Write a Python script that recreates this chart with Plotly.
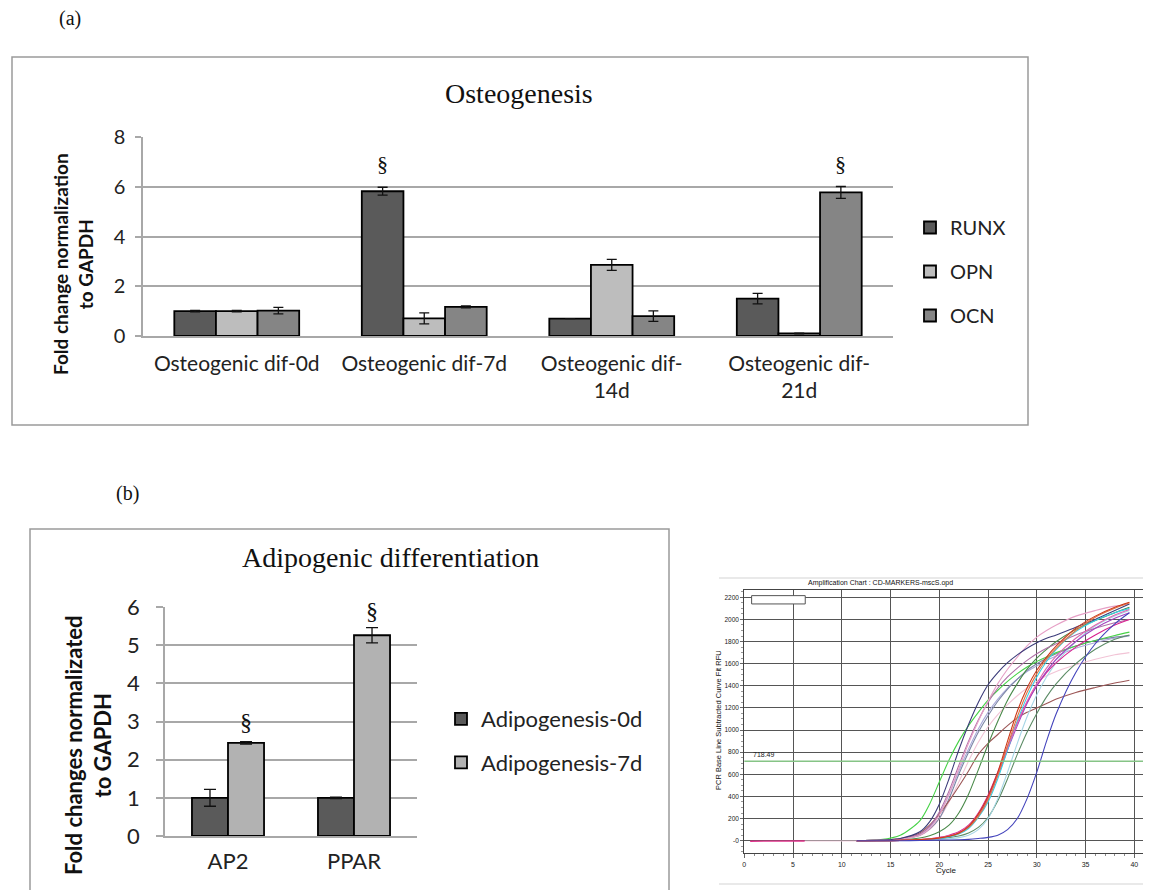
import plotly.graph_objects as go

W, H = 1151, 890
OFF = 8  # page offset of the figure inside the browser window
def px(v): return (v - OFF) / W
def py(v): return 1 - (v - OFF) / H

# ---------------- Panel (a) data ----------------
OST_CATS = ["Osteogenic dif-0d", "Osteogenic dif-7d", "Osteogenic dif-<br>14d", "Osteogenic dif-<br>21d"]
RUNX = [1.0, 5.82, 0.70, 1.50]
RUNX_ERR = [0.03, 0.16, 0.0, 0.21]
OPN = [1.0, 0.71, 2.86, 0.10]
OPN_ERR = [0.03, 0.22, 0.22, 0.01]
OCN = [1.02, 1.17, 0.80, 5.77]
OCN_ERR = [0.13, 0.04, 0.21, 0.24]
OST_SIG_Y = [6.92, 6.92]          # § marks
OST_SIG_CAT = [1, 3]
OST_SIG_SERIES = [0, 2]           # RUNX at 7d, OCN at 21d

# ---------------- Panel (b) data ----------------
ADI_CATS = ["AP2", "PPAR"]
ADI_0D = [1.0, 1.0]
ADI_0D_ERR = [0.22, 0.02]
ADI_7D = [2.44, 5.26]
ADI_7D_ERR = [0.03, 0.20]
ADI_SIG_Y = [2.99, 5.9]

# ---------------- Panel (c) data (amplification curves) ----------------
CYCLES = [11.5, 14, 16, 18, 19, 20, 21, 22, 23, 24, 25, 26, 27, 28, 29, 30, 31, 32, 34, 36, 38, 39.5]
AMP_GREEN = [0, 10, 50, 180, 330, 530, 730, 900, 1040, 1160, 1270, 1360, 1440, 1510, 1570, 1620, 1660, 1700, 1760, 1810, 1855, 1885]
AMP_NAVY = [0, 5, 20, 80, 170, 330, 560, 820, 1050, 1250, 1410, 1520, 1610, 1680, 1740, 1790, 1830, 1860, 1930, 2000, 2080, 2140]
AMP_MAUVE = [0, 5, 15, 60, 130, 260, 450, 680, 900, 1090, 1250, 1380, 1480, 1560, 1630, 1690, 1740, 1780, 1860, 1920, 1970, 2000]
AMP_PINK = [0, 5, 15, 50, 110, 230, 420, 650, 880, 1080, 1260, 1420, 1550, 1660, 1760, 1840, 1900, 1950, 2030, 2080, 2120, 2140]
AMP_LAVENDER = [0, 5, 15, 55, 120, 240, 420, 630, 830, 1010, 1160, 1280, 1380, 1460, 1530, 1580, 1630, 1670, 1740, 1790, 1830, 1850]
AMP_LTPINK = [0, 5, 15, 45, 100, 200, 350, 530, 720, 890, 1030, 1140, 1230, 1310, 1380, 1440, 1490, 1530, 1590, 1640, 1680, 1700]
AMP_BROWN = [0, 5, 20, 70, 140, 240, 360, 490, 630, 780, 880, 960, 1040, 1110, 1160, 1200, 1240, 1280, 1340, 1385, 1425, 1450]
AMP_DKGREEN = [0, 2, 8, 25, 45, 80, 140, 250, 420, 640, 870, 1080, 1270, 1420, 1550, 1650, 1730, 1800, 1910, 1990, 2060, 2110]
AMP_SLATE = [0, 5, 15, 50, 105, 200, 380, 600, 800, 980, 1130, 1260, 1370, 1460, 1540, 1600, 1650, 1690, 1760, 1810, 1840, 1855]
AMP_RED = [0, 0, 3, 10, 15, 25, 40, 70, 130, 240, 400, 620, 900, 1170, 1380, 1540, 1660, 1760, 1920, 2030, 2110, 2155]
AMP_ORANGE = [0, 0, 3, 10, 15, 25, 40, 65, 120, 220, 370, 590, 860, 1120, 1340, 1510, 1640, 1740, 1900, 2020, 2100, 2150]
AMP_MAGENTA = [0, 0, 3, 10, 18, 30, 50, 80, 140, 250, 410, 620, 850, 1070, 1250, 1400, 1520, 1610, 1750, 1860, 1950, 2000]
AMP_PURPLE = [0, 0, 3, 8, 14, 22, 38, 65, 120, 220, 380, 590, 820, 1040, 1240, 1400, 1530, 1640, 1800, 1920, 2010, 2060]
AMP_CYAN = [0, 0, 2, 8, 12, 20, 34, 60, 110, 210, 350, 560, 820, 1080, 1300, 1480, 1620, 1730, 1890, 1990, 2060, 2100]
AMP_PINK2 = [0, 0, 3, 10, 16, 26, 44, 75, 135, 240, 390, 600, 840, 1060, 1260, 1420, 1560, 1670, 1830, 1950, 2040, 2090]
AMP_DKGREEN2 = [0, 0, 3, 8, 12, 18, 28, 42, 70, 120, 210, 360, 560, 780, 980, 1150, 1300, 1420, 1600, 1730, 1820, 1860]
AMP_LTCYAN = [0, 0, 2, 5, 8, 12, 18, 28, 50, 100, 200, 380, 620, 880, 1120, 1320, 1480, 1610, 1800, 1940, 2030, 2080]
AMP_BLUE = [0, 0, 0, 2, 3, 5, 6, 8, 12, 20, 30, 50, 100, 200, 380, 620, 900, 1150, 1520, 1780, 1960, 2060]
BASE_CYCLES = [0.6, 6.2]
BASE_RFU = [-5, -3]
FAINT_CYCLES = [6.2, 11.5]
FAINT_RFU = [-3, -3]
THRESHOLD = 718.49
AMP_YTICKS = [0, 200, 400, 600, 800, 1000, 1200, 1400, 1600, 1800, 2000, 2200]
AMP_YTICKTEXT = ["-0", "200", "400", "600", "800", "1000", "1200", "1400", "1600", "1800", "2000", "2200"]
AMP_XTICKS = [0, 5, 10, 15, 20, 25, 30, 35, 40]

# ---------------- styles ----------------
C_DARK, C_LIGHT, C_MID = "#5a5a5a", "#bdbdbd", "#858585"
C_LIGHT_B = "#b2b2b2"
GRID = "#a8a8a8"
SANS = "Lato"
SERIF = "Liberation Serif"

fig = go.Figure()

# ---- panel (a) bars
bw_a = 0.222
offs_a = [-1.5 * bw_a, -0.5 * bw_a, 0.5 * bw_a]
series_a = [("RUNX", RUNX, RUNX_ERR, C_DARK), ("OPN", OPN, OPN_ERR, C_LIGHT), ("OCN", OCN, OCN_ERR, C_MID)]
for i, (nm, vals, errs, col) in enumerate(series_a):
    fig.add_trace(go.Bar(
        x=OST_CATS, y=vals, name=nm, width=bw_a, offset=offs_a[i],
        marker=dict(color=col, line=dict(color="black", width=1.8)),
        error_y=dict(type="data", array=errs, visible=True, color="#111", thickness=1.3, width=5),
        xaxis="x", yaxis="y", legend="legend", legendgroup=nm, showlegend=True))

# ---- panel (b) bars
bw_b = 0.286
offs_b = [-bw_b, 0.0]
series_b = [("Adipogenesis-0d", ADI_0D, ADI_0D_ERR, C_DARK), ("Adipogenesis-7d", ADI_7D, ADI_7D_ERR, C_LIGHT_B)]
for i, (nm, vals, errs, col) in enumerate(series_b):
    fig.add_trace(go.Bar(
        x=ADI_CATS, y=vals, name=nm, width=bw_b, offset=offs_b[i],
        marker=dict(color=col, line=dict(color="black", width=1.8)),
        error_y=dict(type="data", array=errs, visible=True, color="#111", thickness=1.3, width=6),
        xaxis="x2", yaxis="y2", legend="legend2", legendgroup=nm, showlegend=True))

# ---- panel (c) curves
amp_curves = [
    (AMP_LTPINK, "#f2c4d6"), (AMP_LAVENDER, "#a9a9d9"), (AMP_SLATE, "#7c86a6"),
    (AMP_BROWN, "#9c5656"), (AMP_DKGREEN2, "#5c8c66"), (AMP_LTCYAN, "#a6d6e6"),
    (AMP_GREEN, "#46d246"), (AMP_DKGREEN, "#4a8a4a"), (AMP_MAUVE, "#b070a8"),
    (AMP_PINK, "#e6a0c6"), (AMP_NAVY, "#3c3c7a"), (AMP_MAGENTA, "#d8208e"),
    (AMP_PURPLE, "#a044c0"), (AMP_CYAN, "#36cfe6"), (AMP_PINK2, "#e064b0"),
    (AMP_ORANGE, "#e07444"), (AMP_RED, "#cc3a1c"), (AMP_BLUE, "#4444bc"),
]
for vals, col in amp_curves:
    fig.add_trace(go.Scatter(x=CYCLES, y=vals, mode="lines",
                             line=dict(color=col, width=1.1, shape="spline", smoothing=0.8),
                             xaxis="x3", yaxis="y3", showlegend=False, hoverinfo="skip"))
fig.add_trace(go.Scatter(x=BASE_CYCLES, y=BASE_RFU, mode="lines", line=dict(color="#e0308a", width=1.3),
                         xaxis="x3", yaxis="y3", showlegend=False))
fig.add_trace(go.Scatter(x=FAINT_CYCLES, y=FAINT_RFU, mode="lines", line=dict(color="#f4d0e0", width=1.2),
                         xaxis="x3", yaxis="y3", showlegend=False))

def ann(x, y, text, size, family=SANS, angle=0, **kw):
    d = dict(x=x, y=y, xref="paper", yref="paper", text=text, showarrow=False,
             xanchor="center", yanchor="middle", textangle=angle,
             font=dict(family=family, size=size, color="#111"))
    d.update(kw)
    return d

annotations = []
# § marks (a)
for cat, ser, yv in zip(OST_SIG_CAT, OST_SIG_SERIES, OST_SIG_Y):
    annotations.append(dict(x=cat + offs_a[ser] + bw_a / 2, y=yv, xref="x", yref="y", text="§",
                            showarrow=False, xanchor="center", yanchor="middle",
                            font=dict(family=SERIF, size=22, color="#111")))
# § marks (b)
for cat, yv in enumerate(ADI_SIG_Y):
    annotations.append(dict(x=cat + offs_b[1] + bw_b / 2, y=yv, xref="x2", yref="y2", text="§",
                            showarrow=False, xanchor="center", yanchor="middle",
                            font=dict(family=SERIF, size=24, color="#111")))
# titles and labels
annotations += [
    ann(px(70), py(19), "(a)", 20, SERIF),
    ann(px(128), py(493), "(b)", 20, SERIF),
    ann(px(519), py(93), "Osteogenesis", 28, SERIF),
    ann(px(390), py(557), "Adipogenic differentiation", 28, SERIF),
    ann(px(73), py(264), "<b>Fold change normalization<br>to GAPDH</b>", 19, SANS, -90),
    ann(px(88), py(745), "<b>Fold changes normalizated<br>to GAPDH</b>", 22, SANS, -90),
    ann(px(880), py(583), "Amplification Chart : CD-MARKERS-mscS.opd", 7, "Liberation Sans"),
    ann(px(718), py(720), "PCR Base Line Subtracted Curve Fit RFU", 7.5, "Liberation Sans", -90),
    ann(px(946), py(870), "Cycle", 8, "Liberation Sans"),
    dict(x=0.7, y=THRESHOLD, xref="x3", yref="y3", text="718.49", showarrow=False, xanchor="left",
         yanchor="bottom", yshift=1, font=dict(family="Liberation Sans", size=7, color="#222")),
]

shapes = [
    dict(type="rect", xref="paper", yref="paper", x0=px(12), x1=px(1028), y0=py(57), y1=py(425),
         line=dict(color="#9a9a9a", width=1.5)),
    dict(type="rect", xref="paper", yref="paper", x0=px(30), x1=px(669), y0=py(529), y1=py(905),
         line=dict(color="#9a9a9a", width=1.5)),
    dict(type="line", xref="paper", yref="paper", x0=px(719), x1=1, y0=py(578), y1=py(578),
         line=dict(color="#d4d4d4", width=1.2)),
    dict(type="line", xref="paper", yref="paper", x0=px(719), x1=1, y0=py(884), y1=py(884),
         line=dict(color="#d4d4d4", width=1.2)),
    dict(type="line", xref="x3 domain", yref="y3", x0=0, x1=1, y0=THRESHOLD, y1=THRESHOLD,
         line=dict(color="#86c486", width=1.6)),
    dict(type="rect", xref="x3", yref="y3", x0=0.75, x1=6.25, y0=2140, y1=2215,
         fillcolor="white", line=dict(color="#555", width=1)),
]

tickfont_a = dict(family=SANS, size=20, color="#222")
amp_px_per_cycle = 9.75
amp_xmax = (W + OFF - 744.3) / amp_px_per_cycle
fig.update_layout(
    width=W, height=H, margin=dict(l=0, r=0, t=0, b=0, pad=0, autoexpand=False),
    paper_bgcolor="white", plot_bgcolor="white",
    barmode="group", bargap=0.33, bargroupgap=0,
    annotations=annotations, shapes=shapes,
    xaxis=dict(domain=[px(143), px(893)], range=[-0.5, 3.5], type="category", anchor="y",
               showline=True, linecolor=GRID, linewidth=1.5, showgrid=False, ticks="",
               tickfont=dict(family=SANS, size=21, color="#222"), ticklabelstandoff=8),
    yaxis=dict(domain=[py(336), py(137)], range=[0, 8], dtick=2, anchor="x",
               showline=True, linecolor=GRID, linewidth=1.5, showgrid=True, gridcolor=GRID, gridwidth=1.5,
               zeroline=False, ticks="outside", ticklen=6, tickcolor=GRID, tickwidth=1.5,
               tickfont=tickfont_a, ticklabelstandoff=6),
    xaxis2=dict(domain=[px(165), px(417)], range=[-0.5, 1.5], type="category", anchor="y2",
                showline=True, linecolor=GRID, linewidth=1.5, showgrid=False, ticks="",
                tickfont=dict(family=SANS, size=22, color="#222"), ticklabelstandoff=5),
    yaxis2=dict(domain=[py(836), py(607)], range=[0, 6], dtick=1, anchor="x2",
                showline=True, linecolor=GRID, linewidth=1.5, showgrid=True, gridcolor=GRID, gridwidth=1.5,
                zeroline=False, ticks="outside", ticklen=7, tickcolor=GRID, tickwidth=1.5,
                tickfont=dict(family=SANS, size=22, color="#222"), ticklabelstandoff=12),
    xaxis3=dict(domain=[px(744.3), 1.0], range=[0, amp_xmax], anchor="y3",
                tickvals=AMP_XTICKS, showgrid=True, gridcolor="#555", gridwidth=1.4,
                showline=True, linecolor="#444", linewidth=1.2, mirror=True, zeroline=False,
                ticks="outside", ticklen=4, tickcolor="#666",
                minor=dict(dtick=1, ticks="outside", ticklen=2, tickcolor="#888", showgrid=False),
                tickfont=dict(family="Liberation Sans", size=7, color="#222")),
    yaxis3=dict(domain=[py(853.3), py(590)], range=[-114, 2266], anchor="x3",
                tickvals=AMP_YTICKS, ticktext=AMP_YTICKTEXT, showgrid=True, gridcolor="#555", gridwidth=1.4,
                showline=True, linecolor="#444", linewidth=1.2, mirror=True, zeroline=False,
                ticks="outside", ticklen=3, tickcolor="#666",
                minor=dict(dtick=50, ticks="outside", ticklen=2, tickcolor="#999", showgrid=False),
                tickfont=dict(family="Liberation Sans", size=6.5, color="#222")),
    legend=dict(x=px(910), y=py(208), xanchor="left", yanchor="top", traceorder="grouped",
                font=dict(family=SANS, size=20, color="#222"), tracegroupgap=15,
                bgcolor="rgba(0,0,0,0)", itemclick=False),
    legend2=dict(x=px(441), y=py(698), xanchor="left", yanchor="top", traceorder="grouped",
                 font=dict(family=SANS, size=22, color="#222"), tracegroupgap=12,
                 bgcolor="rgba(0,0,0,0)", itemclick=False),
)

fig.write_html("out.html")
